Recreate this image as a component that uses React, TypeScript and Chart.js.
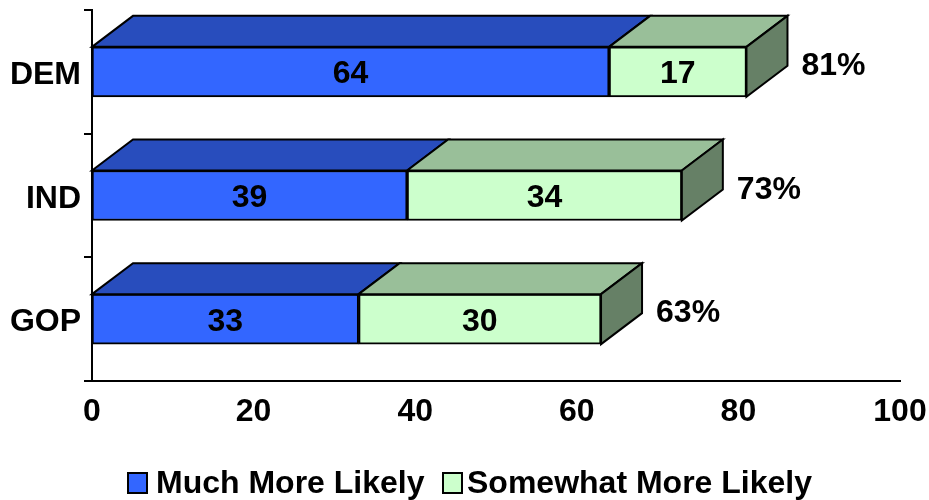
import React, { useEffect, useRef } from "react";
import { Chart, registerables } from "chart.js";

Chart.register(...registerables);

const categories = ["DEM", "IND", "GOP"];
const muchMoreLikely = [64, 39, 33];
const somewhatMoreLikely = [17, 34, 30];
const xTickValues = [0, 20, 40, 60, 80, 100];
const seriesNames = ["Much More Likely", "Somewhat More Likely"];

const FRONT = ["#3366FF", "#CCFFCC"];
const TOP = ["#284DBD", "#99BF99"];
const SIDE = ["#2240A0", "#668066"];
const DX = 41;
const DY = -31;
const FONT = "Arial, 'Liberation Sans', sans-serif";
const SX = 1;
const FS = 32;

function drawText(ctx: CanvasRenderingContext2D, text: string, x: number, y: number, align: CanvasTextAlign, size: number, sx = SX) {
  ctx.save();
  ctx.translate(x, y);
  ctx.scale(sx, 1);
  ctx.font = `bold ${size}px ${FONT}`;
  ctx.textAlign = align;
  ctx.textBaseline = "alphabetic";
  ctx.fillStyle = "#000";
  ctx.fillText(text, 0, 0);
  ctx.restore();
}

function poly(ctx: CanvasRenderingContext2D, pts: number[][], fill: string) {
  ctx.beginPath();
  ctx.moveTo(pts[0][0], pts[0][1]);
  for (let i = 1; i < pts.length; i++) ctx.lineTo(pts[i][0], pts[i][1]);
  ctx.closePath();
  ctx.fillStyle = fill;
  ctx.fill();
  ctx.lineWidth = 2;
  ctx.strokeStyle = "#000";
  ctx.lineJoin = "miter";
  ctx.stroke();
}

const bar3d = {
  id: "bar3d",
  afterDatasetsDraw(chart: any) {
    const ctx: CanvasRenderingContext2D = chart.ctx;
    const nSets = chart.data.datasets.length;
    const xScale = chart.scales.x;
    const yScale = chart.scales.y;
    ctx.save();
    for (let d = 0; d < nSets; d++) {
      const meta = chart.getDatasetMeta(d);
      meta.data.forEach((el: any) => {
        const { x, y, base, height } = el.getProps(["x", "y", "base", "height"], true);
        const top = y - height / 2;
        const bottom = y + height / 2;
        poly(ctx, [[base, top], [base + DX, top + DY], [x + DX, top + DY], [x, top]], TOP[d]);
        if (d === nSets - 1) {
          poly(ctx, [[x, top], [x + DX, top + DY], [x + DX, bottom + DY], [x, bottom]], SIDE[d]);
        }
      });
    }
    // value labels
    for (let d = 0; d < nSets; d++) {
      const meta = chart.getDatasetMeta(d);
      meta.data.forEach((el: any, i: number) => {
        const { x, y, base } = el.getProps(["x", "y", "base"], true);
        const v = chart.data.datasets[d].data[i];
        drawText(ctx, String(v), (x + base) / 2, y + 11.5, "center", FS);
      });
    }
    // totals
    const lastMeta = chart.getDatasetMeta(nSets - 1);
    lastMeta.data.forEach((el: any, i: number) => {
      const { x, y } = el.getProps(["x", "y"], true);
      const total = muchMoreLikely[i] + somewhatMoreLikely[i];
      drawText(ctx, `${total}%`, x + DX + 14, y + 3, "left", FS);
    });
    // category labels
    categories.forEach((c, i) => {
      const py = yScale.getPixelForValue(i);
      drawText(ctx, c, 81, py + 12, "right", FS);
    });
    // x tick labels
    xTickValues.forEach((v) => {
      const px = xScale.getPixelForValue(v);
      drawText(ctx, String(v), px, 421, "center", FS);
    });
    // legend
    const legendItems = [
      { sx: 128, tx: 156 },
      { sx: 443, tx: 467 },
    ];
    legendItems.forEach((it, i) => {
      ctx.fillStyle = FRONT[i];
      ctx.fillRect(it.sx, 473, 19, 20);
      ctx.lineWidth = 2;
      ctx.strokeStyle = "#000";
      ctx.strokeRect(it.sx, 473, 19, 20);
      drawText(ctx, seriesNames[i], it.tx, 493, "left", FS);
    });
    ctx.restore();
  },
};

export default function App() {
  const ref = useRef<HTMLCanvasElement>(null);
  useEffect(() => {
    if (!ref.current) return;
    const chart = new Chart(ref.current, {
      type: "bar",
      data: {
        labels: categories,
        datasets: [
          { label: seriesNames[0], data: muchMoreLikely, backgroundColor: FRONT[0], borderColor: "#000", borderWidth: 2, borderSkipped: false, barThickness: 50 },
          { label: seriesNames[1], data: somewhatMoreLikely, backgroundColor: FRONT[1], borderColor: "#000", borderWidth: 2, borderSkipped: false, barThickness: 50 },
        ],
      },
      options: {
        indexAxis: "y",
        animation: false,
        responsive: false,
        layout: { padding: { left: 0, right: 29, top: 10, bottom: 0 } },
        plugins: { legend: { display: false }, tooltip: { enabled: false } },
        scales: {
          x: {
            stacked: true,
            min: 0,
            max: 100,
            ticks: { display: false, stepSize: 20 },
            grid: { display: false },
            border: { display: true, color: "#000", width: 2 },
            afterFit: (s: any) => { s.height = 119; },
          },
          y: {
            stacked: true,
            ticks: { display: false },
            grid: { display: true, drawOnChartArea: false, drawTicks: true, tickLength: 8, color: "#000", lineWidth: 2, offset: true },
            border: { display: true, color: "#000", width: 2 },
            afterFit: (s: any) => { s.width = 92; },
          },
        },
      },
      plugins: [bar3d],
    } as any);
    return () => chart.destroy();
  }, []);
  return (
    <div style={{ position: "absolute", left: 0, top: 0, width: 929, height: 500, background: "#fff" }}>
      <canvas ref={ref} width={929} height={500} />
    </div>
  );
}
